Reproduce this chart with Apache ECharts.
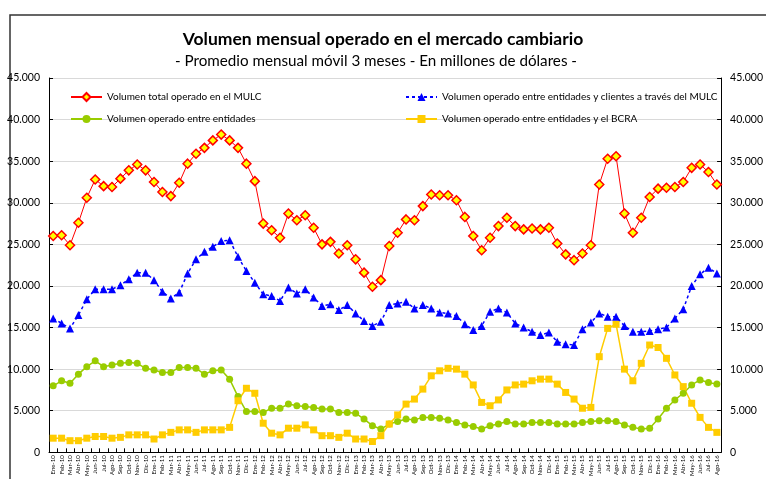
<!DOCTYPE html>
<html>
<head>
<meta charset="utf-8">
<script src="https://cdn.jsdelivr.net/npm/echarts@6/dist/echarts.min.js"></script>
<style>
  html, body { margin: 0; padding: 0; background: #fff; }
  #chart { width: 766px; height: 479px; }
</style>
</head>
<body>
<div id="chart"></div>
<script>
// meses y años del eje X (Ene-10 ... Ago-16)
var months = ['Ene', 'Feb', 'Mar', 'Abr', 'May', 'Jun', 'Jul', 'Ago', 'Sep', 'Oct', 'Nov', 'Dic'];
var years = ['10', '11', '12', '13', '14', '15', '16'];
var lastMonths = 8; // 2016 hasta Agosto

var categories = [];
years.forEach(function (y, yi) {
  var n = yi === years.length - 1 ? lastMonths : 12;
  for (var m = 0; m < n; m++) categories.push(months[m] + '-' + y);
});

var seriesNames = [
  'Volumen total operado en el MULC',
  'Volumen operado entre entidades y clientes a través del MULC',
  'Volumen operado entre entidades',
  'Volumen operado entre entidades y el BCRA'
];

// Volumen total operado en el MULC
var totalMulc = [
  26000, 26100, 24900, 27600, 30600, 32800, 32000, 31900, 32900, 33900,
  34600, 33900, 32500, 31300, 30800, 32400, 34700, 35900, 36600, 37500,
  38200, 37500, 36600, 34700, 32600, 27500, 26700, 25800, 28700, 27900,
  28500, 27000, 25000, 25300, 23900, 24900, 23200, 21600, 19900, 20700,
  24800, 26400, 28000, 27900, 29600, 31000, 30900, 30900, 30300, 28300,
  26000, 24300, 25800, 27200, 28200, 27200, 26800, 26900, 26800, 27000,
  25100, 23800, 23100, 23900, 24900, 32200, 35300, 35600, 28700, 26400,
  28200, 30700, 31700, 31800, 31900, 32500, 34200, 34600, 33700, 32200
];
// entidades y clientes a través del MULC
var clientesMulc = [
  16100, 15500, 14900, 16500, 18400, 19600, 19600, 19600, 20100, 20800,
  21600, 21600, 20700, 19300, 18500, 19200, 21500, 23200, 24100, 24700,
  25400, 25500, 23500, 21800, 20400, 19000, 18800, 18200, 19800, 19100,
  19600, 18600, 17600, 17800, 17100, 17700, 16700, 15800, 15200, 15700,
  17700, 17900, 18100, 17300, 17700, 17300, 16800, 16700, 16400, 15400,
  14700, 15200, 16900, 17300, 16800, 15500, 15000, 14500, 14100, 14400,
  13300, 13000, 12900, 14800, 15600, 16700, 16300, 16300, 15200, 14500,
  14500, 14600, 14800, 15000, 16100, 17200, 20000, 21400, 22200, 21500
];
// entre entidades
var entreEntidades = [
  8000, 8600, 8300, 9400, 10300, 11000, 10300, 10500, 10700, 10800,
  10700, 10100, 9900, 9600, 9600, 10200, 10200, 10100, 9400, 9800,
  9900, 8800, 6700, 4900, 4900, 4800, 5300, 5300, 5800, 5600,
  5500, 5400, 5200, 5200, 4800, 4800, 4700, 4000, 3200, 2800,
  3400, 3700, 4000, 3900, 4200, 4200, 4100, 3900, 3600, 3300,
  3100, 2800, 3200, 3400, 3700, 3400, 3400, 3600, 3600, 3600,
  3400, 3400, 3400, 3600, 3700, 3800, 3800, 3700, 3300, 3000,
  2800, 2900, 4000, 5300, 6300, 7100, 8100, 8700, 8400, 8200
];
// entidades y el BCRA
var entidadesBcra = [
  1700, 1700, 1400, 1400, 1700, 1900, 1900, 1700, 1800, 2100,
  2100, 2100, 1600, 2100, 2400, 2700, 2700, 2400, 2700, 2700,
  2700, 3000, 6200, 7700, 7100, 3500, 2300, 2100, 2900, 2900,
  3300, 2700, 2000, 2000, 1800, 2300, 1600, 1600, 1300, 2000,
  3400, 4500, 5800, 6400, 7600, 9200, 9800, 10100, 10000, 9400,
  8100, 6000, 5600, 6300, 7500, 8100, 8200, 8600, 8800, 8800,
  8200, 7200, 6400, 5300, 5400, 11500, 14900, 15400, 10000, 8600,
  10700, 12900, 12600, 11300, 9300, 7900, 5900, 4200, 3000, 2400
];

var font = 'Lato, "Open Sans", sans-serif';

function fmtMiles(v) {
  return String(v).replace(/\B(?=(\d{3})+(?!\d))/g, '.');
}

var chart = echarts.init(document.getElementById('chart'));

var yAxisBase = {
  type: 'value',
  min: 0,
  max: 45000,
  interval: 5000,
  axisLine: { show: true, lineStyle: { color: '#000', width: 1 } },
  axisTick: { show: true, inside: true, length: 4, lineStyle: { color: '#000' } },
  axisLabel: { color: '#000', fontSize: 10.5, fontFamily: font, margin: 9, formatter: fmtMiles },
  splitLine: { show: true, lineStyle: { color: '#D9D9D9', width: 1 } }
};

var legendText = { fontSize: 10, color: '#000', fontFamily: font };

var option = {
  backgroundColor: '#fff',
  animation: false,
  graphic: [{
    type: 'rect',
    shape: { x: 10, y: 15, width: 800, height: 500 },
    style: { fill: 'none', stroke: '#333', lineWidth: 1.5 },
    silent: true
  }],
  title: [{
    text: 'Volumen mensual operado en el mercado cambiario',
    left: 378, top: 25, textAlign: 'center',
    textStyle: { fontSize: 17.5, fontWeight: 'bold', color: '#000', fontFamily: font }
  }, {
    text: '- Promedio mensual móvil 3 meses - En millones de dólares -',
    left: 371, top: 49, textAlign: 'center',
    textStyle: { fontSize: 15.2, fontWeight: 'normal', color: '#000', fontFamily: font }
  }],
  legend: [{
    data: [seriesNames[0], seriesNames[2]],
    orient: 'vertical',
    left: 70, top: 92, padding: 0,
    itemWidth: 31, itemHeight: 10, itemGap: 12,
    textStyle: legendText
  }, {
    data: [seriesNames[1], seriesNames[3]],
    orient: 'vertical',
    left: 405, top: 92, padding: 0,
    itemWidth: 31, itemHeight: 10, itemGap: 12,
    textStyle: legendText
  }],
  grid: { left: 49, right: 36, top: 78, bottom: 26, containLabel: false },
  xAxis: {
    type: 'category',
    data: categories,
    boundaryGap: true,
    axisLine: { lineStyle: { color: '#000', width: 1 } },
    axisTick: { show: true, inside: true, length: 4, interval: 0, lineStyle: { color: '#000' } },
    axisLabel: { interval: 0, rotate: 90, fontSize: 6, color: '#000', fontFamily: font, margin: 3 },
    splitLine: { show: false }
  },
  yAxis: [
    Object.assign({}, yAxisBase, { position: 'left' }),
    Object.assign({}, yAxisBase, { position: 'right', splitLine: { show: false } })
  ],
  series: [{
    name: seriesNames[2],
    type: 'line',
    data: entreEntidades,
    symbol: 'circle', symbolSize: 7,
    lineStyle: { color: '#99CC00', width: 1.5 },
    itemStyle: { color: '#99CC00' }
  }, {
    name: seriesNames[3],
    type: 'line',
    data: entidadesBcra,
    symbol: 'rect', symbolSize: 7,
    lineStyle: { color: '#FFCC00', width: 1.5 },
    itemStyle: { color: '#FFCC00' }
  }, {
    name: seriesNames[1],
    type: 'line',
    data: clientesMulc,
    symbol: 'triangle', symbolSize: 8,
    lineStyle: { color: '#0000FF', width: 1.5, type: [3, 3] },
    itemStyle: { color: '#0000FF' }
  }, {
    name: seriesNames[0],
    type: 'line',
    data: totalMulc,
    symbol: 'diamond', symbolSize: 9,
    lineStyle: { color: '#FF0000', width: 1 },
    itemStyle: { color: '#FFFF00', borderColor: '#FF0000', borderWidth: 1.5 }
  }]
};

chart.setOption(option);
</script>
</body>
</html>
